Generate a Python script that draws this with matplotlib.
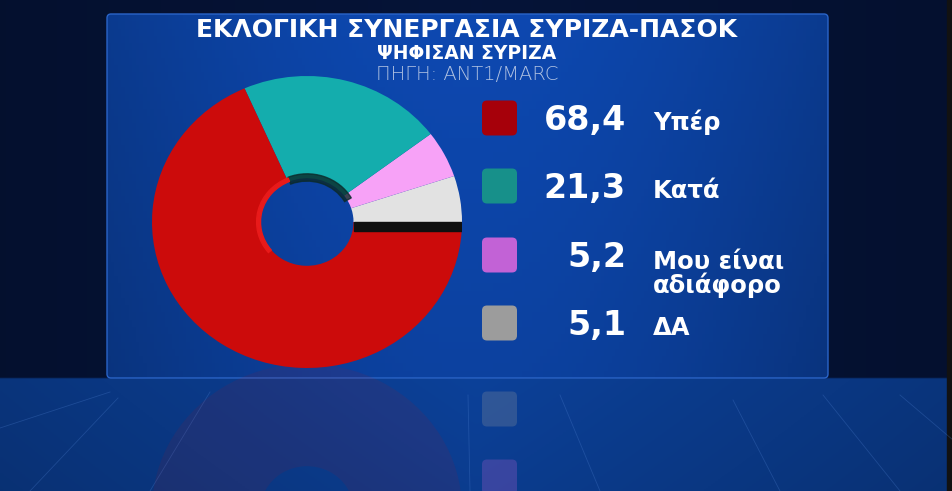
import numpy as np
import matplotlib.pyplot as plt
from matplotlib.patches import FancyBboxPatch, Rectangle, Wedge

# ----- Data -----
title = "ΕΚΛΟΓΙΚΗ ΣΥΝΕΡΓΑΣΙΑ ΣΥΡΙΖΑ-ΠΑΣΟΚ"
subtitle = "ΨΗΦΙΣΑΝ ΣΥΡΙΖΑ"
source = "ΠΗΓΗ: ANT1/MARC"
labels = ["Υπέρ", "Κατά", "Μου είναι\nαδιάφορο", "ΔΑ"]
values = [68.4, 21.3, 5.2, 5.1]
value_text = ["68,4", "21,3", "5,2", "5,1"]
pie_colors = ["#cc0b0b", "#14adad", "#f7a2f7", "#e2e2e2"]
key_colors = ["#a6000a", "#17908a", "#c262d6", "#9c9c9c"]

plt.rcParams['font.family'] = ['DejaVu Sans']

W, H = 953, 491
fig = plt.figure(figsize=(W / 100, H / 100), dpi=100)

# ----- Background (pixel coordinates) -----
bg = fig.add_axes([0, 0, 1, 1])
bg.set_xlim(0, W)
bg.set_ylim(H, 0)
bg.axis("off")

# wall + floor gradient
yy = np.linspace(0, 1, 200)[:, None]
xx = np.linspace(0, 1, 300)[None, :]
wall = np.zeros((200, 300, 3))
top = np.array([0.02, 0.07, 0.20])
floor = np.array([0.04, 0.22, 0.52])
edge = 1 - np.abs(xx - 0.5) * 1.2
for c in range(3):
    wall[..., c] = np.where(yy < 378 / H, top[c] * (0.8 + 0.3 * edge),
                            floor[c] * (0.75 + 0.35 * edge) * (1.05 - 0.3 * (yy - 0.77)))
bg.imshow(wall, extent=[0, W, H, 0], aspect="auto", zorder=0)
bg.add_patch(Rectangle((947, 0), 6, H, color="#121212", zorder=1))

# floor lines
for (x0, y0, x1, y1) in [(0, 428, 110, 392), (30, 491, 118, 398), (150, 491, 210, 392),
                         (468, 395, 470, 491), (560, 395, 600, 491), (733, 400, 780, 491),
                         (823, 395, 900, 491), (900, 395, 953, 440)]:
    bg.plot([x0, x1], [y0, y1], color="#4d7fd0", lw=0.6, alpha=0.3, zorder=1)

# panel
px0, py0, px1, py1 = 107, 14, 828, 378
grad = np.zeros((50, 200, 3))
gx = np.linspace(0, 1, 200)[None, :]
gy = np.linspace(0, 1, 50)[:, None]
base = np.array([0.05, 0.27, 0.66])
for c in range(3):
    grad[..., c] = base[c] * (0.85 + 0.2 * np.sin(np.pi * gx) - 0.1 * gy)
im = bg.imshow(np.clip(grad, 0, 1), extent=[px0, px1, py1, py0], aspect="auto", zorder=2)
panel = FancyBboxPatch((px0, py0), px1 - px0, py1 - py0, boxstyle="round,pad=0,rounding_size=4",
                       facecolor="none", edgecolor="#2a64c8", lw=1.0, zorder=3)
bg.add_patch(panel)
im.set_clip_path(panel)

# titles
bg.text(467, 30, title, ha="center", va="center", color="white", fontsize=18,
        fontweight="bold", zorder=5)
bg.text(467, 53.5, subtitle, ha="center", va="center", color="white", fontsize=13.5,
        fontweight="bold", zorder=5)
bg.text(467, 74.5, source, ha="center", va="center", color="#b0c2e2", fontsize=14,
        fontweight="light", zorder=5)

# ----- Legend -----
row_base = [130, 198, 267, 335]
for i in range(len(labels)):
    yc = row_base[i] - 12
    bg.add_patch(FancyBboxPatch((482, yc - 17.5), 35, 35,
                                boxstyle="round,pad=0,rounding_size=5",
                                facecolor=key_colors[i], edgecolor="none", zorder=5))
    bg.text(626, row_base[i], value_text[i], ha="right", va="baseline", color="white",
            fontsize=24, fontweight="bold", zorder=5)
    # baseline alignment uses the last line, so push wrapped labels down
    extra = 26 * labels[i].count("\n")
    bg.text(653, row_base[i] + extra, labels[i], ha="left", va="baseline", color="white",
            fontsize=17.5, fontweight="bold", linespacing=0.95, zorder=5)

# reflected keys on the floor
axis_y = 366
for i in range(len(labels)):
    yc = row_base[i] - 12
    yr = 2 * axis_y - yc
    if yr < H + 20:
        bg.add_patch(FancyBboxPatch((482, yr - 17.5), 35, 35,
                                    boxstyle="round,pad=0,rounding_size=5",
                                    facecolor=key_colors[i], edgecolor="none",
                                    alpha=0.25, zorder=2))

# ----- Donut -----
cx, cy, rx, ry = 307, 222, 155, 146
pax = fig.add_axes([(cx - rx) / W, 1 - (cy + ry) / H, 2 * rx / W, 2 * ry / H])
order = values[::-1]
wedges, _ = pax.pie(order, colors=pie_colors[::-1], startangle=0, counterclock=True,
                    radius=1, wedgeprops=dict(width=0.7, edgecolor="none"))
pax.set_xlim(-1, 1)
pax.set_ylim(-1, 1)
pax.set_aspect("auto")
pax.axis("off")
# 3d-ish rim details
pax.add_patch(Rectangle((0.3, -0.06), 0.7, 0.06, color="#101010", zorder=5))
pax.add_patch(Wedge((0, 0), 0.33, 30, 112, width=0.05, color="#0b2a2a", alpha=0.8, zorder=5))
pax.add_patch(Wedge((0, 0), 0.325, 112, 220, width=0.025, color="#e81a1a", zorder=5))

# pie reflection
rax = fig.add_axes([(cx - rx) / W, 1 - (2 * axis_y - cy + ry) / H, 2 * rx / W, 2 * ry / H])
rw, _ = rax.pie(order, colors=pie_colors[::-1], startangle=0, counterclock=False,
                radius=1, wedgeprops=dict(width=0.7, edgecolor="none", alpha=0.09))
rax.set_xlim(-1, 1)
rax.set_ylim(-1, 1)
rax.set_aspect("auto")
rax.axis("off")
rax.set_zorder(0.5)

fig.savefig("out.png", dpi=100)
